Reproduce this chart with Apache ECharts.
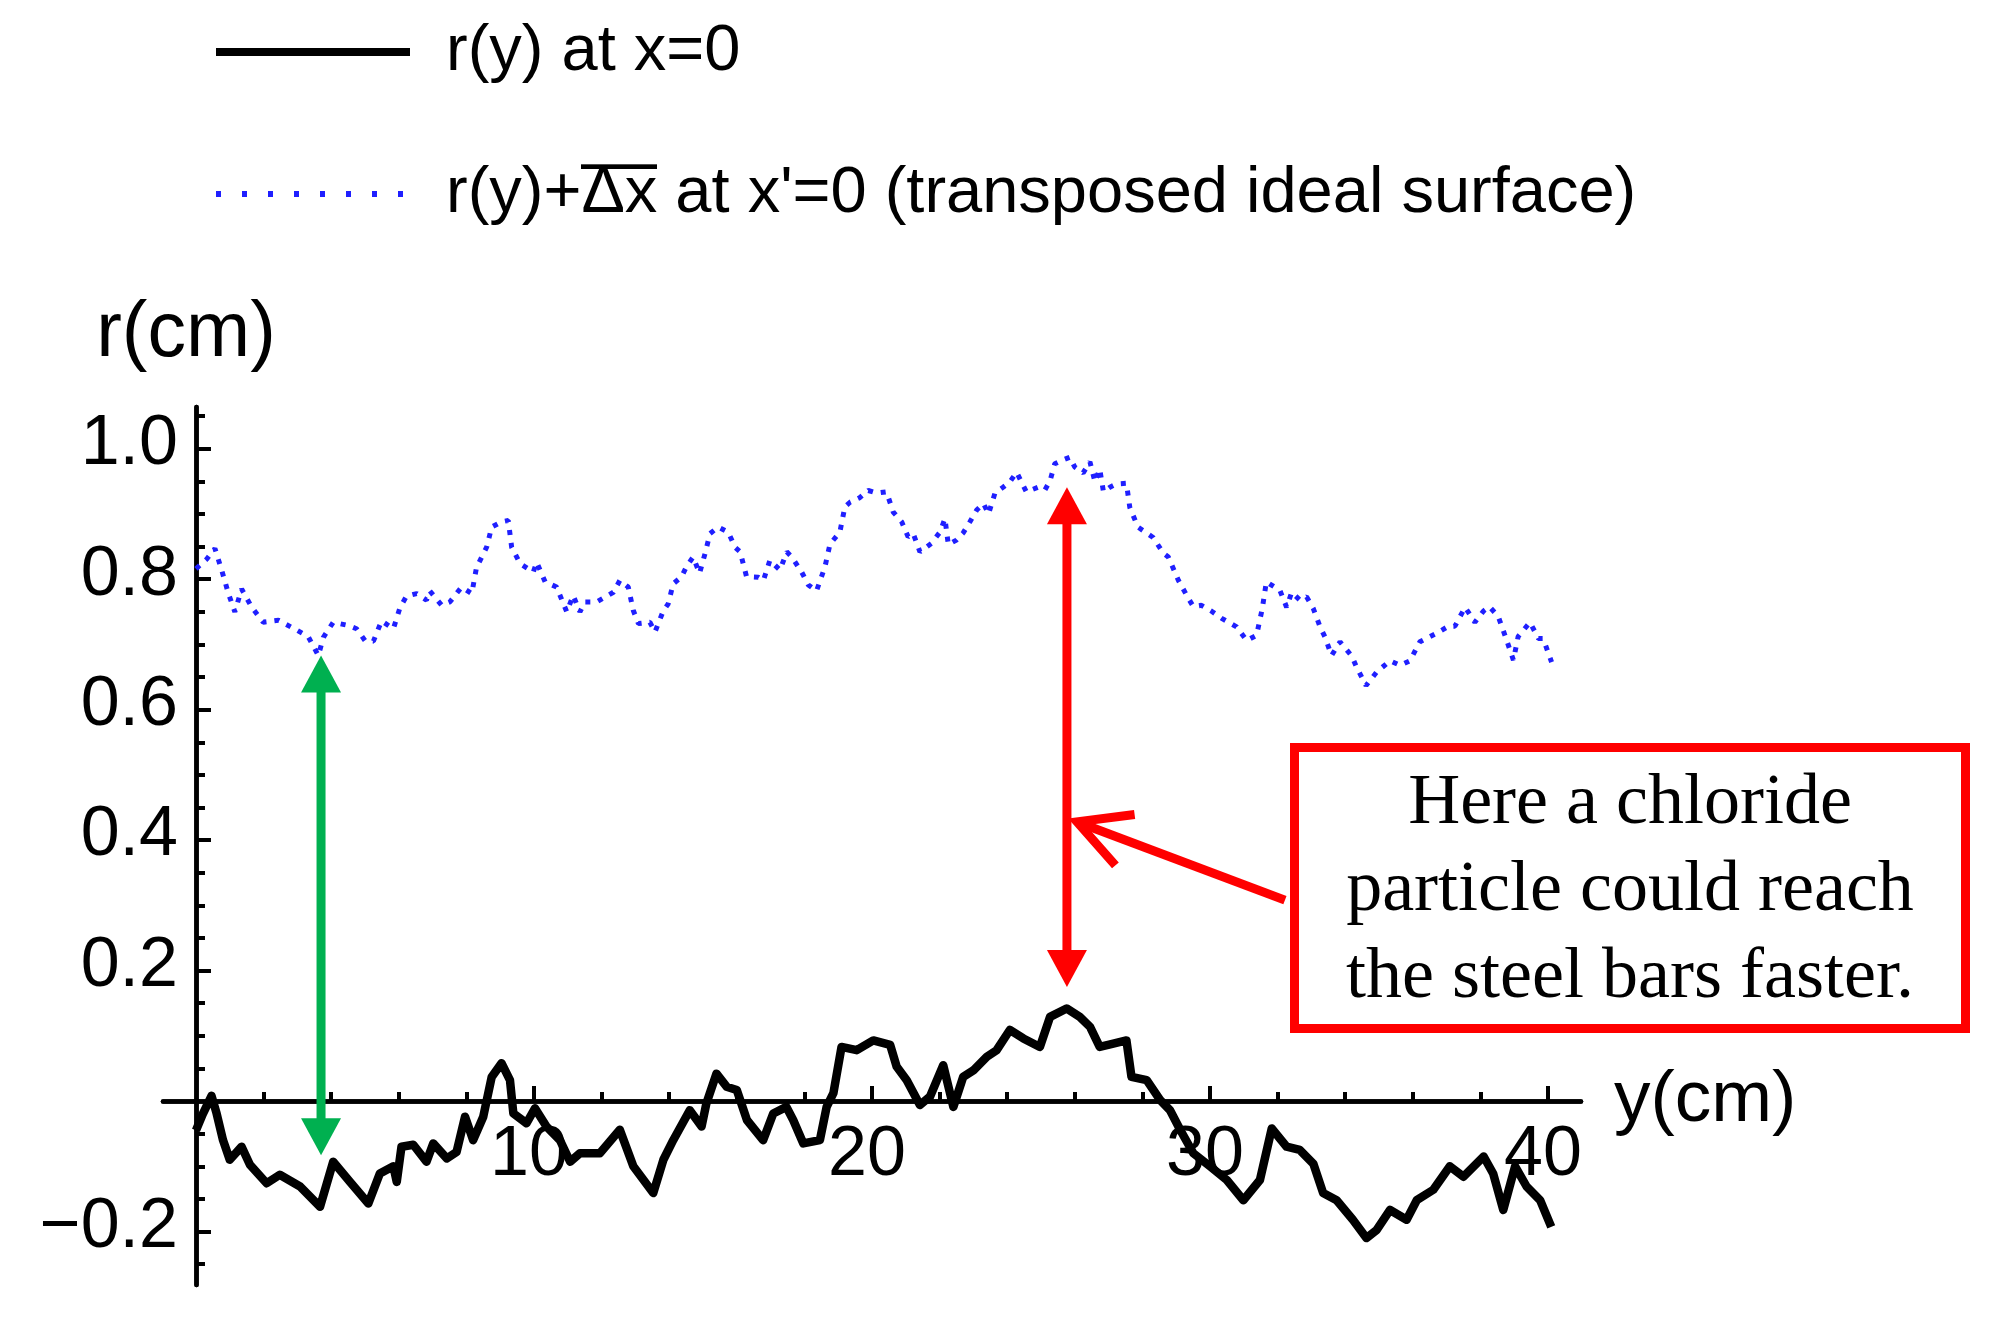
<!DOCTYPE html>
<html>
<head>
<meta charset="utf-8">
<script src="https://cdn.jsdelivr.net/npm/echarts@6/dist/echarts.min.js"></script>
<style>
html,body{margin:0;padding:0;background:#fff;}
#chart{width:2012px;height:1323px;}
</style>
</head>
<body>
<div id="chart"></div>
<script>
// ---------- data ----------
const blackName = 'r(y) at x=0';
const blueName = "r(y)+\u0394x at x'=0 (transposed ideal surface)";

const blackX = [0,0.2,0.46,0.61,0.8,1.0,1.35,1.6,2.09,2.48,3.08,3.67,4.06,4.56,5.1,5.44,5.84,5.94,6.08,6.43,6.82,7.02,7.42,7.71,7.96,8.2,8.5,8.75,9.04,9.29,9.39,9.78,10.03,10.37,10.77,11.07,11.36,11.95,12.54,12.94,13.53,13.83,14.12,14.61,14.96,15.1,15.4,15.7,16.0,16.3,16.78,17.08,17.47,17.67,17.97,18.46,18.66,18.86,19.1,19.55,20.04,20.54,20.73,21.03,21.42,21.72,22.11,22.41,22.7,23.0,23.4,23.69,24.08,24.48,24.97,25.27,25.76,26.15,26.45,26.74,27.14,27.53,27.68,28.13,28.52,28.82,29.12,29.51,30.0,30.5,30.99,31.48,31.83,32.27,32.66,33.06,33.35,33.75,34.23,34.63,34.93,35.33,35.82,36.12,36.61,37.1,37.5,38.1,38.38,38.68,39.03,39.37,39.77,40.1];
const blackR = [-0.045,-0.02,0.008,-0.019,-0.06,-0.09,-0.07,-0.098,-0.126,-0.113,-0.131,-0.162,-0.093,-0.124,-0.157,-0.111,-0.1,-0.124,-0.07,-0.067,-0.093,-0.065,-0.088,-0.078,-0.024,-0.06,-0.024,0.037,0.058,0.032,-0.019,-0.034,-0.011,-0.039,-0.06,-0.093,-0.08,-0.08,-0.044,-0.1,-0.141,-0.09,-0.06,-0.014,-0.039,-0.004,0.042,0.022,0.017,-0.029,-0.06,-0.019,-0.009,-0.029,-0.065,-0.06,-0.009,0.012,0.083,0.078,0.093,0.086,0.053,0.032,-0.006,0.007,0.055,-0.009,0.037,0.047,0.068,0.078,0.109,0.096,0.083,0.129,0.142,0.129,0.114,0.083,0.088,0.093,0.037,0.032,0.002,-0.014,-0.044,-0.08,-0.1,-0.121,-0.152,-0.121,-0.042,-0.07,-0.075,-0.096,-0.141,-0.152,-0.182,-0.21,-0.198,-0.167,-0.182,-0.152,-0.136,-0.1,-0.116,-0.085,-0.111,-0.167,-0.1,-0.131,-0.152,-0.193];

const blueX = [0,0.32,0.56,0.76,0.96,1.15,1.35,1.65,1.99,2.44,2.98,3.32,3.62,3.77,4.06,4.51,4.75,5.0,5.25,5.49,5.84,6.04,6.23,6.53,6.82,6.92,7.27,7.51,7.86,8.16,8.3,8.6,8.75,9.04,9.24,9.34,9.59,9.98,10.08,10.33,10.67,10.97,11.16,11.36,11.51,11.85,12.35,12.54,12.79,12.94,13.09,13.43,13.58,13.83,13.97,14.12,14.37,14.52,14.71,14.9,15.06,15.21,15.45,15.75,15.95,16.1,16.29,16.64,16.79,16.98,17.28,17.48,17.63,17.92,18.12,18.36,18.61,18.76,19.05,19.2,19.35,19.64,19.89,20.14,20.43,20.63,20.88,21.07,21.22,21.42,21.76,22.01,22.16,22.26,22.5,22.7,22.9,23.1,23.3,23.45,23.64,23.88,24.08,24.28,24.57,24.92,25.12,25.27,25.41,25.66,25.86,26.0,26.25,26.45,26.6,26.74,26.85,27.04,27.24,27.53,27.63,27.87,28.32,28.62,28.77,29.07,29.37,29.51,29.75,30.05,30.35,30.79,31.09,31.38,31.55,31.67,32.07,32.27,32.42,32.66,32.86,33.06,33.26,33.4,33.6,33.85,34.2,34.34,34.62,34.94,35.33,35.63,35.92,36.21,36.7,37.06,37.25,37.55,37.84,38.09,38.27,38.53,38.73,38.98,39.12,39.47,39.72,39.86,40.11];
const blueR = [0.816,0.831,0.847,0.814,0.778,0.75,0.785,0.757,0.734,0.737,0.722,0.712,0.683,0.711,0.734,0.729,0.724,0.706,0.705,0.736,0.724,0.757,0.774,0.778,0.768,0.782,0.76,0.765,0.788,0.778,0.818,0.849,0.88,0.888,0.89,0.849,0.824,0.811,0.826,0.796,0.788,0.75,0.775,0.75,0.765,0.765,0.78,0.798,0.788,0.752,0.732,0.734,0.719,0.752,0.762,0.793,0.804,0.82,0.834,0.809,0.839,0.87,0.88,0.872,0.849,0.842,0.804,0.803,0.798,0.829,0.814,0.842,0.834,0.811,0.791,0.782,0.819,0.854,0.872,0.911,0.918,0.925,0.936,0.932,0.934,0.903,0.888,0.865,0.87,0.842,0.855,0.872,0.893,0.853,0.86,0.871,0.888,0.906,0.916,0.9,0.932,0.941,0.949,0.964,0.934,0.941,0.937,0.951,0.977,0.983,0.987,0.972,0.963,0.98,0.949,0.969,0.934,0.941,0.946,0.947,0.91,0.88,0.864,0.84,0.834,0.798,0.77,0.758,0.76,0.751,0.74,0.727,0.706,0.714,0.755,0.796,0.783,0.757,0.78,0.768,0.773,0.755,0.727,0.712,0.683,0.704,0.682,0.665,0.637,0.658,0.675,0.668,0.675,0.704,0.717,0.728,0.728,0.757,0.734,0.751,0.758,0.743,0.714,0.676,0.712,0.734,0.709,0.709,0.673,0.655];

// tick values / labels
const xMajorTicks = [10, 20, 30, 40];
const xMinorTicks = [2,4,6,8,12,14,16,18,22,24,26,28,32,34,36,38];
const yMajorTicks = [-0.2, 0.2, 0.4, 0.6, 0.8, 1.0];
const yMinorTicks = [-0.25,-0.15,-0.1,-0.05,0.05,0.1,0.15,0.25,0.3,0.35,0.45,0.5,0.55,0.65,0.7,0.75,0.85,0.9,0.95,1.05];
const xTickLabels = ['10', '20', '30', '40'];
const yTickLabels = ['\u22120.2', '0.2', '0.4', '0.6', '0.8', '1.0'];

// annotations (data coordinates)
const doubleArrowX = [3.7, 25.77];
const doubleArrowTop = [0.683, 0.941];
const doubleArrowBottom = [-0.083, 0.175];
const doubleArrowColor = ['#00b050', '#ff0000'];
const pointerTip = [26.07, 0.428];
const pointerTail = [32.22, 0.308];
const noteText = 'Here a chloride\nparticle could reach\nthe steel bars faster.';

// ---------- chart ----------
const SANS = '"Liberation Sans", Arial, sans-serif';
const SERIF = '"Liberation Serif", "Times New Roman", serif';
const X_MIN = -0.976, X_MAX = 40.98, Y_MIN = -0.282, Y_MAX = 1.064;

// overline image for the legend's "Δx"
const ov = document.createElement('canvas');
ov.width = 4; ov.height = 70;
const ovc = ov.getContext('2d');
ovc.fillStyle = '#000';
ovc.fillRect(0, 3, 4, 5);

const chart = echarts.init(document.getElementById('chart'), null, {renderer: 'canvas'});

function axisX(major) {
  return {
    type: 'value', min: X_MIN, max: X_MAX, position: 'bottom',
    axisLine: {show: true, onZero: true, lineStyle: {color: '#000', width: 4.5}},
    axisTick: {show: true, inside: true, length: major ? 15 : 9,
      lineStyle: {color: '#000', width: 4}, customValues: major ? xMajorTicks : xMinorTicks},
    axisLabel: {show: false},
    splitLine: {show: false},
    name: major ? 'y(cm)' : '', nameLocation: 'end', nameGap: 33,
    nameTextStyle: {fontSize: 73, fontFamily: SANS, color: '#000'}
  };
}
function axisY(major) {
  return {
    type: 'value', min: Y_MIN, max: Y_MAX, position: 'left',
    axisLine: {show: true, onZero: true, lineStyle: {color: '#000', width: 4.5}},
    axisTick: {show: true, inside: true, length: major ? 15 : 9,
      lineStyle: {color: '#000', width: 4}, customValues: major ? yMajorTicks : yMinorTicks},
    axisLabel: {show: false},
    splitLine: {show: false},
    name: major ? 'r(cm)' : '', nameLocation: 'end', nameGap: 34,
    nameTextStyle: {fontSize: 77, fontFamily: SANS, color: '#000', padding: [0, 20, 0, 0]}
  };
}

const hiddenSymbol = {opacity: 0, color: 'transparent', borderWidth: 0};

const option = {
  animation: false,
  backgroundColor: '#fff',
  grid: {left: 163, right: 431, top: 407, bottom: 38, containLabel: false, outerBoundsMode: 'none'},
  legend: {
    orient: 'vertical', left: 212, top: 17, padding: 0,
    itemWidth: 194, itemHeight: 14, itemGap: 72,
    itemStyle: hiddenSymbol,
    textStyle: {
      fontSize: 65, fontFamily: SANS, color: '#000', lineHeight: 70, padding: [0, 0, 0, 31],
      rich: {
        t: {fontSize: 65, fontFamily: SANS, color: '#000', lineHeight: 70},
        o: {fontSize: 65, fontFamily: SANS, color: '#000', lineHeight: 70, backgroundColor: {image: ov}}
      }
    },
    data: [
      {name: blackName, itemStyle: hiddenSymbol, lineStyle: {width: 8, color: '#000', type: 'solid'}},
      {name: blueName, itemStyle: hiddenSymbol, lineStyle: {type: [5, 21], width: 6, color: '#1f1fff'}}
    ],
    formatter: function (name) {
      if (name === blueName) {
        return "{t|r(y)+}{o|\u0394x}{t| at x'=0 (transposed ideal surface)}";
      }
      return name;
    }
  },
  xAxis: [axisX(true), axisX(false)],
  yAxis: [axisY(true), axisY(false)],
  series: [
    {
      name: blueName, type: 'line', xAxisIndex: 0, yAxisIndex: 0,
      symbol: 'none', showSymbol: false, z: 2,
      itemStyle: {color: '#1f1fff'},
      lineStyle: {color: '#1f1fff', width: 5, type: [5, 8]},
      data: blueX.map((x, i) => [x, blueR[i]])
    },
    {
      name: blackName, type: 'line', xAxisIndex: 0, yAxisIndex: 0,
      symbol: 'none', showSymbol: false, z: 3,
      itemStyle: {color: '#000'},
      lineStyle: {color: '#000', width: 8.5, join: 'round'},
      data: blackX.map((x, i) => [x, blackR[i]])
    },
    {
      type: 'custom', xAxisIndex: 0, yAxisIndex: 0, silent: true, z: 5,
      data: doubleArrowX.map((x, i) => [x, doubleArrowTop[i], doubleArrowBottom[i]]),
      renderItem: function (params, api) {
        const p1 = api.coord([api.value(0), api.value(1)]);
        const p2 = api.coord([api.value(0), api.value(2)]);
        const c = doubleArrowColor[params.dataIndex];
        const hl = 37, hw = 20;
        return {type: 'group', children: [
          {type: 'line', shape: {x1: p1[0], y1: p1[1] + hl - 2, x2: p2[0], y2: p2[1] - hl + 2},
            style: {stroke: c, lineWidth: 9}},
          {type: 'polygon', shape: {points: [[p1[0], p1[1]], [p1[0] - hw, p1[1] + hl], [p1[0] + hw, p1[1] + hl]]},
            style: {fill: c}},
          {type: 'polygon', shape: {points: [[p2[0], p2[1]], [p2[0] - hw, p2[1] - hl], [p2[0] + hw, p2[1] - hl]]},
            style: {fill: c}}
        ]};
      }
    },
    {
      type: 'custom', xAxisIndex: 0, yAxisIndex: 0, silent: true, z: 5,
      data: [[pointerTip[0], pointerTip[1], pointerTail[0], pointerTail[1]]],
      renderItem: function (params, api) {
        const tip = api.coord([api.value(0), api.value(1)]);
        const tail = api.coord([api.value(2), api.value(3)]);
        const ang = Math.atan2(tail[1] - tip[1], tail[0] - tip[0]);
        const L = 58, a = 28 * Math.PI / 180;
        const w1 = [tip[0] + L * Math.cos(ang - a), tip[1] + L * Math.sin(ang - a)];
        const w2 = [tip[0] + L * Math.cos(ang + a), tip[1] + L * Math.sin(ang + a)];
        return {type: 'group', children: [
          {type: 'line', shape: {x1: tip[0] + 3 * Math.cos(ang), y1: tip[1] + 3 * Math.sin(ang), x2: tail[0], y2: tail[1]},
            style: {stroke: '#ff0000', lineWidth: 9}},
          {type: 'polyline', shape: {points: [w1, tip, w2]},
            style: {stroke: '#ff0000', lineWidth: 9, fill: null, lineJoin: 'miter'}}
        ]};
      }
    },
    {
      // x tick labels, placed under the y = 0 axis line
      type: 'custom', xAxisIndex: 0, yAxisIndex: 0, silent: true, z: 6,
      data: xMajorTicks.map(v => [v]),
      renderItem: function (params, api) {
        const p = api.coord([api.value(0), 0]);
        return {type: 'text', x: p[0] - 5, y: p[1] + 55,
          style: {text: xTickLabels[params.dataIndex], fontSize: 70, fontFamily: SANS, fill: '#000',
            align: 'center', verticalAlign: 'middle'}};
      }
    },
    {
      // y tick labels, placed left of the x = 0 axis line
      type: 'custom', xAxisIndex: 0, yAxisIndex: 0, silent: true, z: 6,
      data: yMajorTicks.map(v => [0, v]),
      renderItem: function (params, api) {
        const p = api.coord([0, api.value(1)]);
        return {type: 'text', x: p[0] - 18, y: p[1] - 4,
          style: {text: yTickLabels[params.dataIndex], fontSize: 70, fontFamily: SANS, fill: '#000',
            align: 'right', verticalAlign: 'middle'}};
      }
    }
  ],
  graphic: [
    {type: 'rect', z: 10, shape: {x: 1294.5, y: 747.5, width: 671, height: 281},
      style: {fill: '#fff', stroke: '#ff0000', lineWidth: 9}},
    {type: 'text', z: 11, x: 1630, y: 891,
      style: {text: noteText, fontSize: 72, fontFamily: SERIF, fill: '#000',
        align: 'center', verticalAlign: 'middle', lineHeight: 87}}
  ]
};
chart.setOption(option);
</script>
</body>
</html>
